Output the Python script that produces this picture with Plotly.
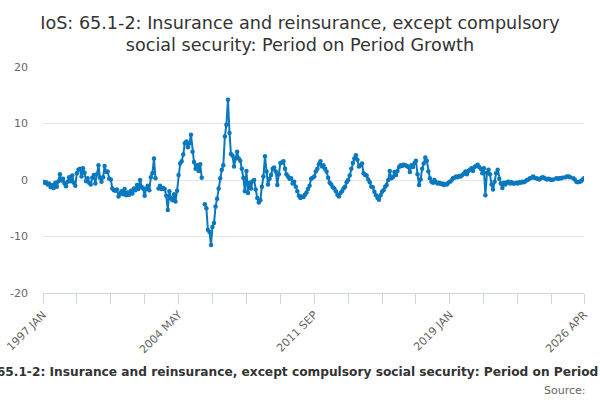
import pandas as pd
import plotly.graph_objects as go

TITLE = "IoS: 65.1-2: Insurance and reinsurance, except compulsory social security: Period on Period Growth"

# 月度环比增长，按五年一段放（读图估计的值，None 为缺失）
growth_1997_2001 = [
    -0.3, -0.5, -0.4, -0.8, -0.6, -1.3, -0.9, -1.4, -0.5, -1.2, -0.2, 1.0,
    -0.1, 0.2, -0.6, -1.1, -0.3, 0.5, -0.2, 0.8, -0.5, -1.0, 1.2, 1.8,
    2.0, 0.6, 2.1, 1.3, -0.2, 0.3, -0.5, -0.8, 0.4, 0.9, -0.6, 1.0,
    2.6, 0.4, -0.3, 0.5, 2.5, 1.4, 1.5, 0.2, 0.1, -1.5, -1.8, -1.9,
    -1.7, -2.9, -2.4, -2.0, -2.5, -1.6, -2.7, -2.2, -2.6, -1.9, -2.4, -1.5,
]
growth_2002_2006 = [
    -1.8, -0.9, -1.6, 0.0, -1.2, -1.5, -2.8, -1.5, -1.0, -1.8, 0.5, 1.2,
    3.8, 0.3, None, -1.5, -1.0, -1.6, -1.4, -1.6, -2.8, -5.3, -2.0, -3.2,
    -3.6, -2.5, -3.8, -1.9, 0.9, 2.9, 3.3, 4.5, 6.5, 6.8, 5.8, 6.5,
    8.0, 5.0, 3.2, 2.0, 2.6, 1.6, 2.8, 0.4, None, -4.3, -5.0, -8.8,
    -9.2, -11.5, -8.3, -7.6, -4.7, -3.3, -1.5, 0.3, 1.8, 2.6, 7.7, 9.8,
]
growth_2007_2011 = [
    14.2, 8.3, 4.6, 4.3, 2.4, 3.8, 5.0, 3.8, 3.4, 2.0, 0.4, -2.0,
    1.6, -2.3, -0.5, -1.5, -0.2, 0.0, -1.7, -3.2, -4.0, -3.6, -1.2, 0.6,
    4.2, 1.5, -0.8, 0.2, 0.9, 2.0, 2.2, 1.5, -0.9, 1.0, 3.0, 3.1,
    3.3, 2.0, 1.0, 0.6, 0.2, 0.3, -0.6, -0.3, -1.2, -2.0, -2.8, -3.2,
    -2.9, -3.0, -2.6, -2.2, -1.6, -1.0, 0.2, 0.4, 0.6, 1.5, 2.0, 2.8,
]
growth_2012_2016 = [
    3.3, 2.4, 2.6, 2.0, 1.5, 0.4, -0.5, -0.8, -1.3, -1.5, -2.0, -2.6,
    -2.9, -2.3, -2.0, -1.5, -1.2, -0.4, 0.0, 0.8, 2.0, 3.0, 3.8, 4.4,
    3.6, 2.4, 2.6, 2.9, 1.2, 0.9, 0.8, 0.1, -0.4, -1.2, -1.3, -2.1,
    -2.7, -3.2, -3.5, -2.7, -2.1, -1.8, -1.2, -0.9, 0.0, 1.6, 0.3, 0.5,
    1.4, 0.9, 1.6, 2.3, 2.6, 2.5, 2.7, 2.6, 2.5, 2.3, 1.4, 2.6,
]
growth_2017_2021 = [
    2.3, 3.0, 3.4, 1.0, -0.9, 0.1, 2.0, 2.9, 4.0, 3.4, 1.5, 0.3,
    -0.3, -0.5, 0.0, -0.4, -0.6, -0.5, -0.7, -0.6, -0.9, -0.7, -0.8, -0.5,
    -0.3, -0.1, 0.3, 0.4, 0.6, 0.5, 0.7, 0.6, 0.9, 1.1, 1.5, 1.0,
    1.6, 1.8, 2.1, 1.6, 2.3, 2.5, 2.7, 2.3, 2.0, 1.2, 2.1, -2.7,
    1.3, 1.8, 1.0, -0.8, -1.7, -0.3, 1.2, 1.8, 0.2, -0.6, -1.4, -0.5,
]
growth_2022_2026 = [
    -0.8, -0.4, -0.3, -0.6, -0.4, -0.6, -0.6, -0.5, -0.6, -0.4, -0.5, -0.3,
    -0.4, -0.2, 0.0, 0.1, 0.3, 0.4, 0.6, 0.4, 0.3, 0.2, 0.1, 0.3,
    0.5, 0.4, 0.2, 0.1, 0.2, 0.1, 0.0, 0.1, None, 0.3, 0.2, 0.3,
    0.3, 0.4, None, 0.5, 0.6, 0.6, 0.5, None, 0.3, 0.1, -0.3, -0.4,
    -0.3, -0.2, 0.1, 0.3,
]

tick_labels = ["1997 JAN", "2004 MAY", "2011 SEP", "2019 JAN", "2026 APR"]
y_ticks = [-20, -10, 0, 10, 20]

LINE_COLOR = "#0a78be"
AXIS_COLOR = "#ccd6eb"

FIG_W, FIG_H = 600, 400


def draw_growth_chart():
    values = (growth_1997_2001 + growth_2002_2006 + growth_2007_2011
              + growth_2012_2016 + growth_2017_2021 + growth_2022_2026)
    months = pd.date_range("1997-01-01", periods=len(values), freq="MS")

    # 刻度每 22 个月一个，最后一个月也放一个
    tick_idx = list(range(0, len(months), 22))
    if tick_idx[-1] != len(months) - 1:
        tick_idx.append(len(months) - 1)
    tick_vals = [months[i] for i in tick_idx]
    tick_text = []
    for d in tick_vals:
        lab = d.strftime("%Y %b").upper()
        tick_text.append(lab if lab in tick_labels else "")

    fig = go.Figure(go.Scatter(
        x=months,
        y=values,
        mode="lines+markers",
        line=dict(color=LINE_COLOR, width=2),
        marker=dict(color=LINE_COLOR, size=4.5),
        connectgaps=False,
    ))

    fig.update_layout(
        width=FIG_W,
        height=FIG_H,
        margin=dict(l=43, r=16, t=67, b=107, autoexpand=False),
        paper_bgcolor="white",
        plot_bgcolor="white",
        showlegend=False,
        font=dict(family="DejaVu Sans", size=11, color="#666666"),
        title=dict(
            text="IoS: 65.1-2: Insurance and reinsurance, except compulsory<br>social security: Period on Period Growth",
            x=0.5, xanchor="center", xref="container",
            y=1 - 28.5 / FIG_H, yanchor="middle", yref="container",
            font=dict(size=17.6, color="#333333"),
        ),
    )
    fig.update_xaxes(
        type="date",
        range=[months[0], months[-1]],
        automargin=False,
        showgrid=False,
        showline=True,
        linecolor=AXIS_COLOR,
        ticks="outside",
        ticklen=10,
        tickcolor=AXIS_COLOR,
        tickvals=tick_vals,
        ticktext=tick_text,
        tickangle=-45,
        ticklabeloverflow="allow",
        zeroline=False,
    )
    fig.update_yaxes(
        range=[-20, 20],
        automargin=False,
        tickvals=y_ticks,
        ticktext=[str(v) for v in y_ticks],
        gridcolor="#e6e6e6",
        zeroline=False,
        ticks="",
        ticklabelstandoff=14,
        ticklabeloverflow="allow",
    )

    # 底部的粗体标题（两边被裁掉）和来源
    fig.add_annotation(
        text="<b>" + TITLE + "</b>",
        xref="paper", yref="paper", x=0.492, y=-0.35,
        xanchor="center", yanchor="middle", showarrow=False,
        font=dict(size=12.2, color="#333333"),
    )
    fig.add_annotation(
        text="Source:",
        xref="paper", yref="paper", x=1.007, y=-0.43,
        xanchor="right", yanchor="middle", showarrow=False,
        font=dict(size=11, color="#666666"),
    )

    # 去掉 body 默认的 8px 边距，让 600x400 的图正好铺满窗口；不要工具栏
    fig.write_html("out.html", config={"displayModeBar": False},
                   post_script="document.body.style.margin='0';")
    return fig


def main():
    draw_growth_chart()
    return


if __name__ == '__main__':
    main()
